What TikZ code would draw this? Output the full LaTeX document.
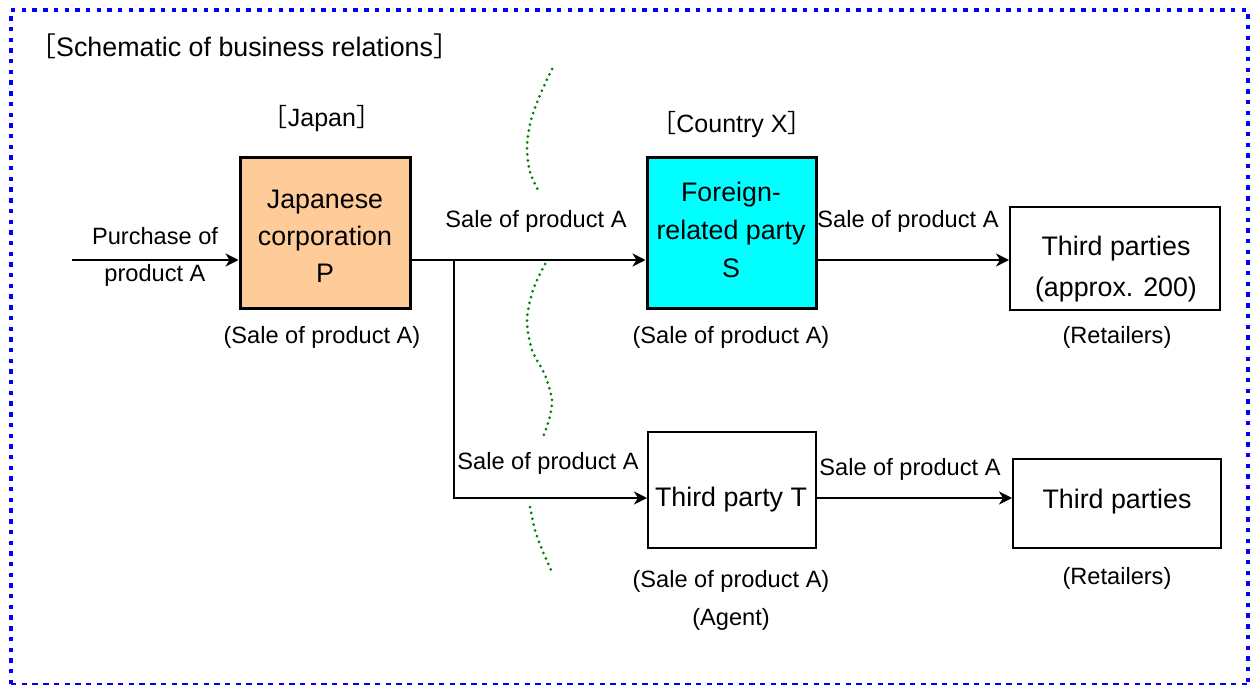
\documentclass[tikz,border=0pt]{standalone}
\usepackage{fontspec}
\setmainfont{Liberation Sans}
\newfontfamily\cjk{Noto Sans CJK JP}
\usetikzlibrary{arrows.meta}
\definecolor{peach}{RGB}{255,204,153}
\definecolor{aqua}{RGB}{0,255,255}
\definecolor{gdark}{RGB}{0,128,0}
\definecolor{bblue}{RGB}{0,0,255}
\begin{document}
\begin{tikzpicture}[x=0.5pt,y=-0.5pt,
  lbl/.style={inner sep=0pt, font=\fontsize{11.8}{18.5}\selectfont, align=center},
  boxtxt/.style={inner sep=0pt, font=\fontsize{13.4}{18.5}\selectfont, align=center},
  hdr/.style={inner sep=0pt, font=\fontsize{12.5}{15}\selectfont},
  thickbox/.style={draw, line width=1.5pt, inner sep=0pt},
  thinbox/.style={draw, line width=1pt, inner sep=0pt},
  arr/.style={draw, line width=1pt, -{Stealth[length=6.5pt,width=6.5pt,inset=2pt]}},
  bdot/.style={draw=bblue, line width=2.2pt, dash pattern=on 2.2pt off 3.15pt},
  bdash/.style={draw=bblue, line width=1pt, dash pattern=on 2.7pt off 2.65pt},
  gdot/.style={draw=gdark, line width=1.5pt, dash pattern=on 0pt off 3pt, line cap=round}
]
\useasboundingbox (0,0) rectangle (1254,686);
\fill[white] (0,0) rectangle (1254,686);
% frame
\draw[bdot] (11,684) -- (11,10) -- (1248,10) -- (1248,684);
\draw[bdash] (11,684) -- (1248,684);

% title and headers
\node[anchor=west, inner sep=0pt, font=\fontsize{13.4}{16}\selectfont] (title) at (29,46)
  {{\cjk ［}Schematic of business relations{\cjk ］}};
\node[hdr] (hjp) at (322,119) {{\cjk ［}Japan{\cjk ］}};
\node[hdr] (hcx) at (732,125) {{\cjk ［}Country X{\cjk ］}};

% boxes
\node[thickbox, fill=peach, minimum width=85pt, minimum height=75.5pt] (P) at (325,232.5) {};
\node[thickbox, fill=aqua, minimum width=84.5pt, minimum height=75.5pt] (S) at (731.5,232.5) {};
\node[thinbox, minimum width=105pt, minimum height=51.5pt] (R1) at (1115,258.5) {};
\node[thinbox, minimum width=84pt, minimum height=58pt] (T) at (732,490) {};
\node[thinbox, minimum width=104pt, minimum height=44.5pt] (R2) at (1117,503.5) {};

% box texts
\node[boxtxt] (Ptxt) at (325,236) {Japanese\\corporation\\P};
\node[boxtxt, font=\fontsize{13.4}{19}\selectfont] (Stxt) at (731,230) {Foreign-\\related party\\S};
\node[boxtxt, font=\fontsize{13.4}{20.5}\selectfont] (R1txt) at (1116,269) {Third parties\\(approx. 200)};
\node[boxtxt] (Ttxt) at (731,500) {Third party T};
\node[boxtxt] (R2txt) at (1117,502) {Third parties};

% connectors
\coordinate (in) at (72,260);
\coordinate (j) at (454,260);
\coordinate (k) at (454,498);
\draw[arr] (in) -- (in -| P.west);
\draw[arr] (P.east |- j) -- (S.west |- j);
\draw[arr] (j) -- (k) -- (k -| T.west);
\draw[arr] (S.east |- j) -- (R1.west |- j);
\draw[arr] (T.east |- k) -- (R2.west |- k);

% connector labels
\node[lbl] (lin) at (155,257) {Purchase of\\product A};
\node[lbl] (l1) at (536,221) {Sale of product A};
\node[lbl] (l2) at (908,221) {Sale of product A};
\node[lbl] (l3) at (548,463) {Sale of product A};
\node[lbl] (l4) at (910,469) {Sale of product A};

% captions
\node[lbl] (cP) at (322,337) {(Sale of product A)};
\node[lbl] (cS) at (731,337) {(Sale of product A)};
\node[lbl] (cR1) at (1117,337) {(Retailers)};
\node[lbl] (cT) at (731,581) {(Sale of product A)};
\node[lbl] (cA) at (731,619) {(Agent)};
\node[lbl] (cR2) at (1117,578) {(Retailers)};

% border wavy dotted line
\draw[gdot] plot[smooth] coordinates {(552,69) (540,95) (531,120) (527,147) (530,172) (540,194)};
\draw[gdot] plot[smooth] coordinates {(545,264) (533,290) (527,320) (532,350) (545,375) (552,400) (549,420) (543,437)};
\draw[gdot] plot[smooth] coordinates {(530,507) (535,530) (543,552) (552,572)};
\end{tikzpicture}
\end{document}
